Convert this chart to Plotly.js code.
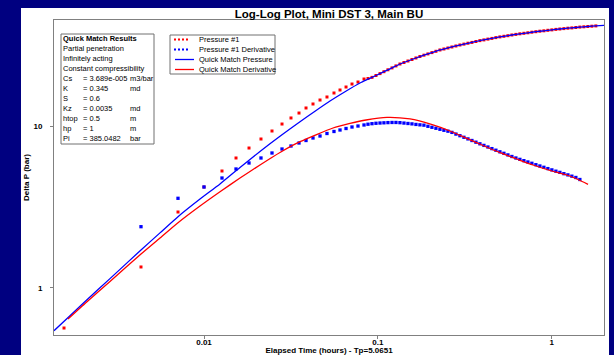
<!DOCTYPE html>
<html>
<head>
<meta charset="utf-8">
<script src="https://cdn.plot.ly/plotly-3.0.1.min.js"></script>
<style>
html,body{margin:0;padding:0;background:#000080;overflow:hidden;}
#chart{width:614px;height:355px;}
</style>
</head>
<body>
<div id="chart"></div>
<script>
// ---------- data ----------
const pressureTime = [0.001566, 0.004341, 0.007087, 0.0100, 0.01269, 0.01528, 0.01815, 0.02127, 0.02461, 0.02810, 0.03165, 0.03519, 0.03862, 0.04236, 0.04648, 0.05098, 0.05594, 0.06058, 0.06561, 0.07101, 0.07688, 0.08325,
  0.08775, 0.09252, 0.09755, 0.1029, 0.1084, 0.1143, 0.1206, 0.1271, 0.1340, 0.1413, 0.1490, 0.1571, 0.1656, 0.1746, 0.1841, 0.1941, 0.2047, 0.2158, 0.2276, 0.2399, 0.2530, 0.2667, 0.2812, 0.2965, 0.3127, 0.3297, 0.3476, 0.3665, 0.3864, 0.4074, 0.4296, 0.4529, 0.4775, 0.5035, 0.5309, 0.5597, 0.5902, 0.6223, 0.6561, 0.6918, 0.7294, 0.7690, 0.8109, 0.8550, 0.9014, 0.9505, 1.002, 1.057, 1.114, 1.175, 1.239, 1.306, 1.377, 1.452, 1.531, 1.614, 1.702, 1.794];
const pressureDP = [0.5656, 1.349, 2.951, 4.213, 5.291, 6.368, 7.340, 8.346, 9.353, 10.33, 11.26, 12.08, 12.98, 13.74, 14.54, 15.18, 16.07, 16.77, 17.50, 18.26, 18.79, 19.61,
  19.75, 20.07, 20.62, 21.18, 21.76, 22.36, 22.97, 23.63, 24.28, 24.81, 25.34, 25.89, 26.45, 27.02, 27.53, 28.04, 28.56, 29.10, 29.65, 30.07, 30.50, 30.94, 31.38, 31.83, 32.23, 32.65, 33.02, 33.45, 33.88, 34.22, 34.61, 34.96, 35.36, 35.72, 36.03, 36.34, 36.70, 37.01, 37.33, 37.60, 37.87, 38.19, 38.46, 38.74, 38.96, 39.24, 39.47, 39.75, 39.97, 40.20, 40.43, 40.60, 40.83, 41.07, 41.24, 41.42, 41.59, 41.77];

const derivTime = [0.004341, 0.007087, 0.0100, 0.01269, 0.01528, 0.01815, 0.02127, 0.02461, 0.02810, 0.03165, 0.03519, 0.03862, 0.04236, 0.04648, 0.05098, 0.05594, 0.06058, 0.06561, 0.07101, 0.07688, 0.08325,
  0.08775, 0.09252, 0.09755, 0.1029, 0.1084, 0.1143, 0.1206, 0.1271, 0.1340, 0.1413, 0.1490, 0.1571, 0.1656, 0.1746, 0.1841, 0.1941, 0.2047, 0.2158, 0.2276, 0.2399, 0.2530, 0.2667, 0.2812, 0.2965, 0.3127, 0.3297, 0.3476, 0.3665, 0.3864, 0.4074, 0.4296, 0.4529, 0.4775, 0.5035, 0.5309, 0.5597, 0.5902, 0.6223, 0.6561, 0.6918, 0.7294, 0.7690, 0.8109, 0.8550, 0.9014, 0.9505, 1.002, 1.057, 1.114, 1.175, 1.239, 1.306, 1.377, 1.452];
const derivDP = [2.394, 3.587, 4.213, 4.788, 5.445, 5.930, 6.368, 6.837, 7.237, 7.553, 7.883, 8.169, 8.466, 8.710, 9.026, 9.287, 9.487, 9.692, 9.901, 10.04, 10.19,
  10.30, 10.38, 10.44, 10.48, 10.51, 10.54, 10.56, 10.56, 10.53, 10.47, 10.41, 10.35, 10.27, 10.21, 10.16, 10.00, 9.859, 9.719, 9.582, 9.447, 9.327, 9.169, 8.950, 8.748, 8.551, 8.358, 8.169, 7.974, 7.794, 7.619, 7.447, 7.278, 7.114, 6.954, 6.808, 6.654, 6.505, 6.368, 6.244, 6.130, 6.017, 5.906, 5.789, 5.683, 5.578, 5.476, 5.376, 5.277, 5.188, 5.093, 5.006, 4.915, 4.825, 4.688];

const matchPressTime = [0.001372, 0.001695, 0.002115, 0.002879, 0.004341, 0.005583, 0.007087, 0.009484, 0.01236, 0.01611, 0.02099, 0.02736, 0.03566, 0.04350, 0.05306, 0.06471, 0.07893,
  0.08775, 0.09755, 0.1084, 0.1206, 0.1340, 0.1490, 0.1656, 0.1841, 0.2047, 0.2276, 0.2530, 0.2812, 0.3127, 0.3476, 0.3864, 0.4296, 0.4775, 0.5309, 0.5902, 0.6561, 0.7294, 0.8109, 0.9014, 1.002, 1.114, 1.239, 1.377, 1.531, 1.702, 1.892, 1.999];
const matchPressDP = [0.5445, 0.6741, 0.8429, 1.143, 1.718, 2.192, 2.760, 3.546, 4.398, 5.563, 6.985, 8.686, 10.68, 12.40, 14.34, 16.37, 18.53,
  19.56, 20.62, 21.76, 22.97, 24.28, 25.34, 26.45, 27.53, 28.56, 29.65, 30.50, 31.38, 32.23, 33.02, 33.88, 34.61, 35.36, 36.03, 36.70, 37.33, 37.87, 38.46, 38.96, 39.47, 39.97, 40.43, 40.83, 41.24, 41.59, 41.95, 42.07];

const matchDerivTime = [0.001651, 0.002115, 0.002879, 0.004341, 0.005583, 0.007087, 0.009484, 0.01236, 0.01611, 0.02099, 0.02736, 0.03566, 0.05521, 0.06915, 0.08546, 0.1129, 0.1531, 0.2076, 0.2600, 0.3244, 0.4024, 0.5042, 0.6290, 0.7805, 0.9777, 1.220, 1.417, 1.618];
const matchDerivDP = [0.6431, 0.8193, 1.097, 1.623, 2.038, 2.534, 3.215, 3.940, 4.788, 5.764, 6.887, 8.031, 9.761, 10.41, 10.94, 11.36, 11.10, 10.19, 9.353, 8.430, 7.607, 6.866, 6.278, 5.764, 5.329, 4.998, 4.688, 4.378];

const xTickVals = [0.01, 0.1, 1];
const xTickText = ['0.01', '0.1', '1'];
const yTickVals = [1, 10];
const yTickText = ['1', '10'];

const seriesNames = ['Pressure #1', 'Pressure #1 Derivative', 'Quick Match Pressure', 'Quick Match Derivative'];
const chartTitle = 'Log-Log Plot, Mini DST 3, Main BU';
const xTitle = 'Elapsed Time (hours) - Tp=5.0651';
const yTitle = 'Delta P (bar)';

const resultsHeader = 'Quick Match Results';
const resultsNotes = ['Partial penetration', 'Infinitely acting', 'Constant compressibility'];
const resultsLabels = ['Cs', 'K', 'S', 'Kz', 'htop', 'hp', 'Pi'];
const resultsValues = ['= 3.689e-005', '= 0.345', '= 0.6', '= 0.0035', '= 0.5', '= 1', '= 385.0482'];
const resultsUnits = ['m3/bar', 'md', '', 'md', 'm', 'm', 'bar'];

// ---------- layout helpers (pixel -> paper) ----------
const FONT = 'Liberation Sans, Arial, Helvetica, sans-serif';
const PL = 54, PR = 604, PT = 20, PB = 335;
const fx = x => (x - PL) / (PR - PL);
const fy = y => (PB - y) / (PB - PT);
const RED = '#ff0000', BLUE = '#0000ff', FRAME = '#808080';

const traces = [
  {x: pressureTime, y: pressureDP, name: seriesNames[0], type: 'scatter', mode: 'markers',
   marker: {symbol: 'square', size: 3, color: RED, line: {width: 0}}},
  {x: derivTime, y: derivDP, name: seriesNames[1], type: 'scatter', mode: 'markers',
   marker: {symbol: 'square', size: 3.3, color: BLUE, line: {width: 0}}},
  {x: matchPressTime, y: matchPressDP, name: seriesNames[2], type: 'scatter', mode: 'lines',
   line: {color: BLUE, width: 1.3, shape: 'spline', smoothing: 0.6}},
  {x: matchDerivTime, y: matchDerivDP, name: seriesNames[3], type: 'scatter', mode: 'lines',
   line: {color: RED, width: 1.3, shape: 'spline', smoothing: 0.6}}
];

const shapes = [];
const annotations = [];

// white panel behind the chart
shapes.push({type: 'rect', xref: 'paper', yref: 'paper', layer: 'below',
  x0: fx(21), x1: fx(609), y0: fy(356), y1: fy(8), fillcolor: '#ffffff', line: {width: 0}});

// results box
shapes.push({type: 'rect', xref: 'paper', yref: 'paper',
  x0: fx(61), x1: fx(154), y0: fy(144), y1: fy(34), line: {color: '#707070', width: 1}});
const rowY = i => 38 + 10 * i;
const txt = (text, x, y, bold) => annotations.push({
  xref: 'paper', yref: 'paper', x: fx(x), y: fy(y), xanchor: 'left', yanchor: 'middle',
  text: text, showarrow: false, borderpad: 0, borderwidth: 0,
  font: {family: FONT, size: 7.5, color: '#000000', weight: bold ? 'bold' : 'normal'}
});
txt(resultsHeader, 63, rowY(0), true);
resultsNotes.forEach((t, i) => txt(t, 63, rowY(i + 1), false));
resultsLabels.forEach((t, i) => {
  txt(t, 63, rowY(i + 4), false);
  txt(resultsValues[i], 83, rowY(i + 4), false);
  if (resultsUnits[i]) txt(resultsUnits[i], 130, rowY(i + 4), false);
});

// legend box
shapes.push({type: 'rect', xref: 'paper', yref: 'paper',
  x0: fx(170), x1: fx(275), y0: fy(74), y1: fy(35), line: {color: '#707070', width: 1}});
const legY = i => 39.5 + 10 * i;
[RED, BLUE].forEach((c, i) => {
  [175, 179, 183, 187].forEach(dx => shapes.push({type: 'rect', xref: 'paper', yref: 'paper',
    x0: fx(dx - 1), x1: fx(dx + 1), y0: fy(legY(i) + 1), y1: fy(legY(i) - 1), fillcolor: c, line: {width: 0}}));
});
[BLUE, RED].forEach((c, i) => shapes.push({type: 'line', xref: 'paper', yref: 'paper',
  x0: fx(175), x1: fx(194), y0: fy(legY(i + 2)), y1: fy(legY(i + 2)), line: {color: c, width: 1.3}}));
seriesNames.forEach((n, i) => txt(n, 199, legY(i), false));

const axisCommon = {
  type: 'log', tickmode: 'array', ticks: 'outside', ticklen: 3, tickcolor: FRAME, tickwidth: 1,
  showline: true, mirror: true, linecolor: FRAME, linewidth: 1, showgrid: false, zeroline: false,
  tickfont: {family: FONT, size: 8, color: '#000000', weight: 'bold'}
};

const layout = {
  width: 614, height: 355, autosize: false,
  margin: {l: PL, r: 614 - PR, t: PT, b: 355 - PB, pad: 0},
  paper_bgcolor: '#000080', plot_bgcolor: '#ffffff',
  showlegend: false,
  title: {text: chartTitle, x: 0.5, xref: 'paper', xanchor: 'center', y: 1 - 14 / 355, yanchor: 'middle',
    font: {family: FONT, size: 11.5, color: '#000000', weight: 'bold'}},
  xaxis: Object.assign({}, axisCommon, {
    range: [-2.8628, 0.3008], tickvals: xTickVals, ticktext: xTickText, ticklabelstandoff: -4,
    title: {text: xTitle, standoff: 6, font: {family: FONT, size: 8, color: '#000000', weight: 'bold'}}
  }),
  yaxis: Object.assign({}, axisCommon, {
    range: [-0.2907, 1.6574], tickvals: yTickVals, ticktext: yTickText, ticklabelstandoff: 6,
    title: {text: yTitle, standoff: 2, font: {family: FONT, size: 8, color: '#000000', weight: 'bold'}}
  }),
  shapes: shapes,
  annotations: annotations
};

Plotly.newPlot('chart', traces, layout, {displayModeBar: false, staticPlot: true});
</script>
</body>
</html>
